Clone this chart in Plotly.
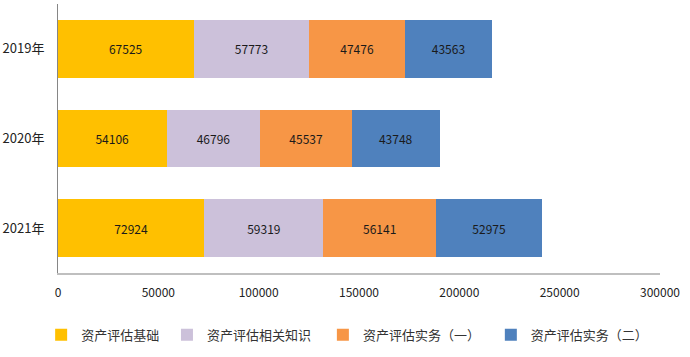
import plotly.graph_objects as go

years = ["2019年", "2020年", "2021年"]
series_names = ["资产评估基础", "资产评估相关知识", "资产评估实务（一）", "资产评估实务（二）"]
jichu = [67525, 54106, 72924]
xiangguan = [57773, 46796, 59319]
shiwu1 = [47476, 45537, 56141]
shiwu2 = [43563, 43748, 52975]
tick_vals = [0, 50000, 100000, 150000, 200000, 250000, 300000]

colors = ["#FFC000", "#CCC1DA", "#F79646", "#4F81BD"]
values = [jichu, xiangguan, shiwu1, shiwu2]
legend_ids = ["legend", "legend2", "legend3", "legend4"]
legend_x = [-0.028, 0.181, 0.44, 0.719]

font_family = "Noto Sans CJK SC, Noto Sans, sans-serif"

fig = go.Figure()
for name, vals, c, lg in zip(series_names, values, colors, legend_ids):
    fig.add_trace(go.Bar(
        y=years, x=vals, name=name, orientation="h",
        marker=dict(color=c, line=dict(width=0)),
        text=[str(v) for v in vals], textposition="inside",
        insidetextanchor="middle", textangle=0,
        textfont=dict(color="#1a1a1a", size=12, family=font_family),
        legend=lg,
    ))

layout_legends = {}
for lg, lx in zip(legend_ids, legend_x):
    layout_legends[lg] = dict(
        x=lx, y=-0.23, xanchor="left", yanchor="middle",
        orientation="h", itemwidth=30, bgcolor="rgba(0,0,0,0)",
        font=dict(size=13, color="#333333", family=font_family),
    )

fig.update_layout(
    width=690, height=357,
    margin=dict(l=58, r=30, t=4, b=84),
    barmode="stack", bargap=0.36,
    plot_bgcolor="white", paper_bgcolor="white",
    font=dict(family=font_family, color="#333333", size=12),
    showlegend=True,
    xaxis=dict(
        range=[0, 300000], tickvals=tick_vals, tickformat="d",
        showgrid=False, zeroline=False,
        showline=True, linecolor="#BFBFBF", linewidth=2,
        ticks="", ticklabelstandoff=8,
        tickfont=dict(size=12, color="#222222"),
    ),
    yaxis=dict(
        autorange="reversed", showgrid=False, zeroline=False,
        showline=True, linecolor="#868686", linewidth=1,
        ticks="", ticklabelstandoff=10,
        tickfont=dict(size=13, color="#222222"),
    ),
    **layout_legends,
)

fig.write_html("out.html")
